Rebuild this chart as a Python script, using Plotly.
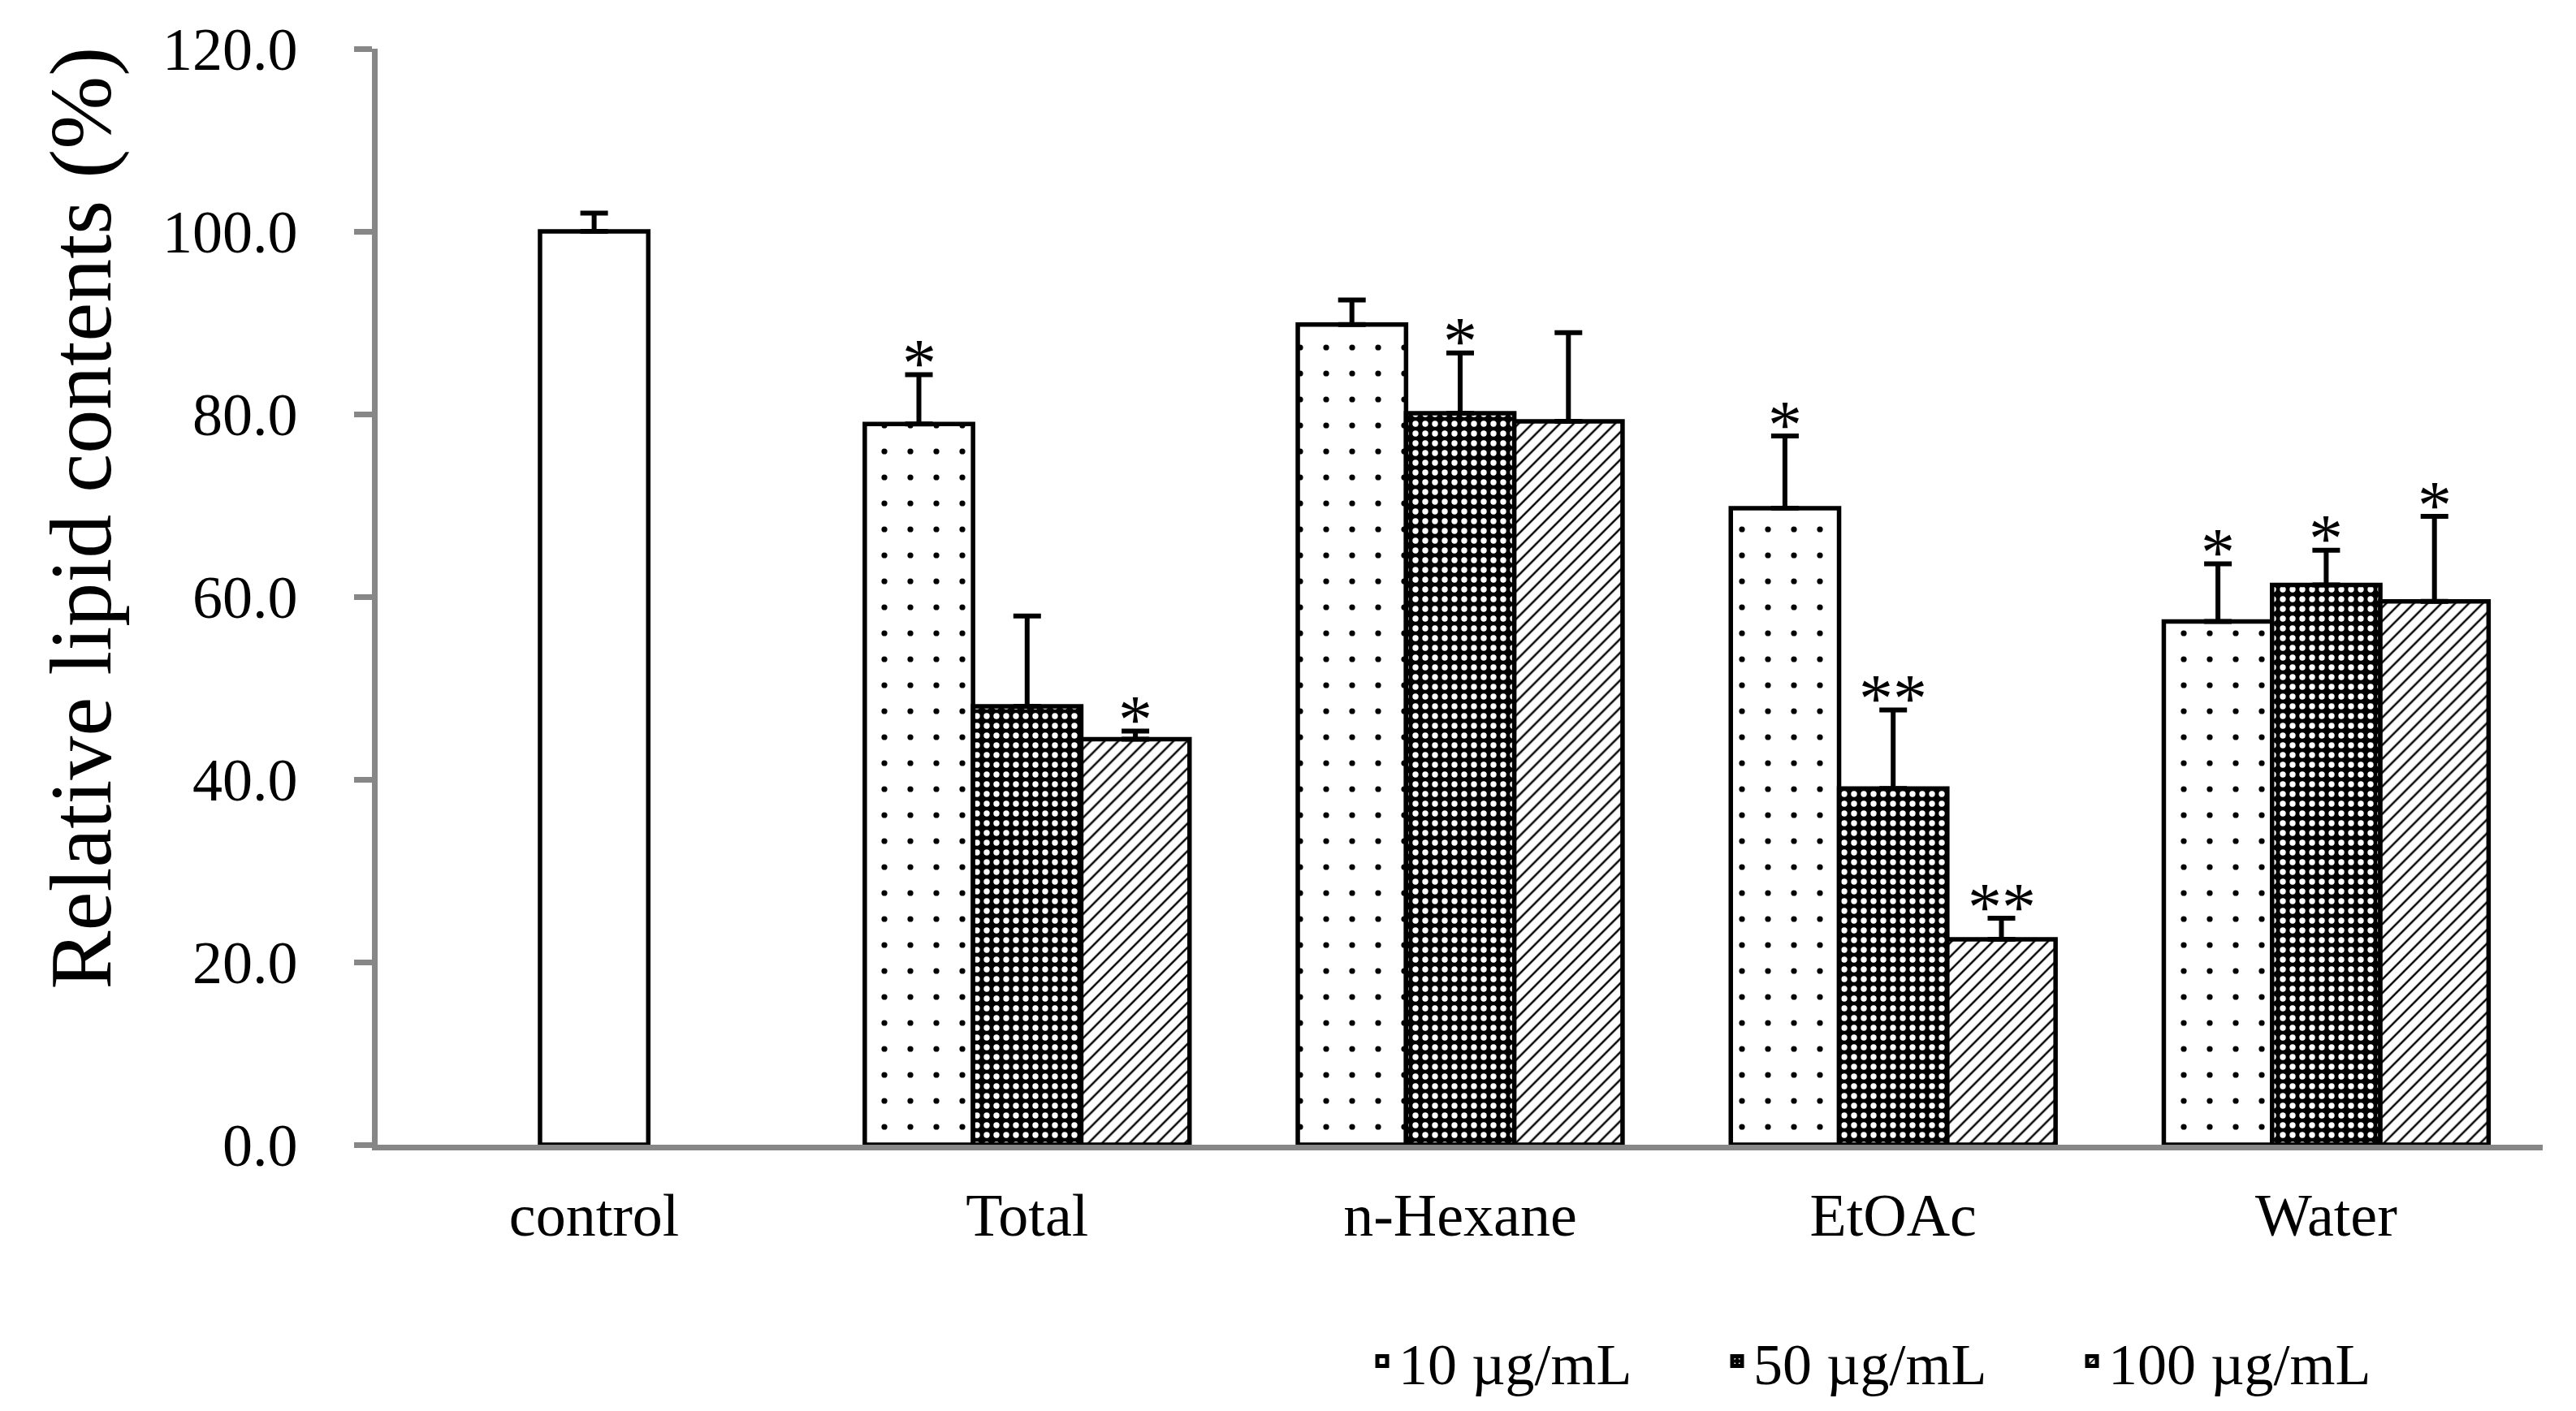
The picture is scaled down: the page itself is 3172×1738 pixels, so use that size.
import plotly.graph_objects as go

categories = ["control", "Total", "n-Hexane", "EtOAc", "Water"]
extract_categories = ["Total", "n-Hexane", "EtOAc", "Water"]

control_value = [100.0]
control_err = [2.0]

series_names = ["10 µg/mL", "50 µg/mL", "100 µg/mL"]
values_10 = [78.9, 89.8, 69.7, 57.3]
err_10 = [5.4, 2.7, 7.9, 6.3]
sig_10 = ["*", "", "*", "*"]

values_50 = [48.0, 80.1, 39.0, 61.3]
err_50 = [9.9, 6.6, 8.6, 3.8]
sig_50 = ["", "*", "**", "*"]

values_100 = [44.4, 79.2, 22.5, 59.5]
err_100 = [0.9, 9.7, 2.3, 9.3]
sig_100 = ["*", "", "**", "*"]

y_ticks = [0, 20, 40, 60, 80, 100, 120]

FONT = "Liberation Serif"
AXIS_GREY = "#878787"
BAR_W = 0.25
OFFSETS = [-0.25, 0.0, 0.25]
LINE_W = 5.5

patterns = [
    dict(shape=".", fgcolor="black", bgcolor="white", size=32, solidity=0.04, fillmode="replace"),
    dict(shape=".", fgcolor="white", bgcolor="black", size=12, solidity=0.3, fillmode="replace"),
    dict(shape="/", fgcolor="black", bgcolor="white", size=12, solidity=0.2, fillmode="replace"),
]

fig = go.Figure()

cat_index = {c: i for i, c in enumerate(categories)}

# control bar (centered in its category)
fig.add_trace(go.Bar(
    x=[cat_index["control"]], y=control_value, width=BAR_W,
    marker=dict(color="white", line=dict(color="black", width=LINE_W)),
    error_y=dict(type="data", array=control_err, arrayminus=[0], symmetric=False,
                 color="black", thickness=6, width=17),
    showlegend=False, name="control", hoverinfo="y",
))

all_vals = [values_10, values_50, values_100]
all_errs = [err_10, err_50, err_100]
all_sigs = [sig_10, sig_50, sig_100]

for k in range(3):
    xs = [cat_index[c] + OFFSETS[k] for c in extract_categories]
    fig.add_trace(go.Bar(
        x=xs, y=all_vals[k], width=BAR_W, name=series_names[k],
        marker=dict(color="white" if k != 1 else "black",
                    line=dict(color="black", width=LINE_W),
                    pattern=patterns[k]),
        error_y=dict(type="data", array=all_errs[k], arrayminus=[0] * 4, symmetric=False,
                     color="black", thickness=6, width=17),
    ))

annotations = []
for k in range(3):
    for c, v, e, s in zip(extract_categories, all_vals[k], all_errs[k], all_sigs[k]):
        if not s:
            continue
        annotations.append(dict(
            x=cat_index[c] + OFFSETS[k], y=v + e, xref="x", yref="y",
            text=s, showarrow=False, xanchor="center", yanchor="middle", yshift=14,
            font=dict(family=FONT, size=84, color="black"),
        ))

annotations.append(dict(
    text="Relative lipid contents (%)", textangle=-90,
    xref="paper", yref="paper", x=-0.137, y=0.572,
    xanchor="center", yanchor="middle", showarrow=False,
    font=dict(family=FONT, size=108, color="black"),
))

fig.update_layout(
    width=3172, height=1738,
    margin=dict(l=457, r=49, t=46, b=336),
    paper_bgcolor="white", plot_bgcolor="white",
    barmode="overlay",
    font=dict(family=FONT, size=74, color="black"),
    legend=dict(orientation="h", x=0.4565, y=-0.158, xanchor="left", yanchor="top",
                font=dict(family=FONT, size=72, color="black"),
                traceorder="normal", itemwidth=30, entrywidth=392),
    annotations=annotations,
)

fig.update_xaxes(
    range=[-0.5, 4.5], tickmode="array",
    tickvals=[cat_index[c] for c in categories], ticktext=categories,
    showline=True, linecolor=AXIS_GREY, linewidth=6.5,
    ticks="", showgrid=False, zeroline=False,
    tickfont=dict(family=FONT, size=74, color="black"),
    ticklabelstandoff=16,
)
fig.update_yaxes(
    range=[0, 120], tickmode="array", tickvals=y_ticks,
    ticktext=[f"{t:.1f}" for t in y_ticks],
    showline=True, linecolor=AXIS_GREY, linewidth=6.5,
    ticks="outside", ticklen=22, tickwidth=6.5, tickcolor=AXIS_GREY,
    showgrid=False, zeroline=False,
    tickfont=dict(family=FONT, size=74, color="black"),
    ticklabelstandoff=55,
)

fig.write_html("out.html")
